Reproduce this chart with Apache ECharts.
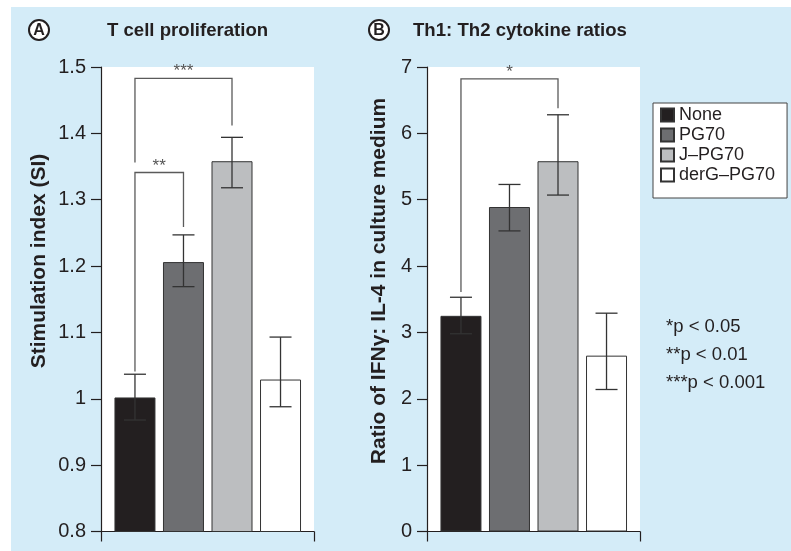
<!DOCTYPE html>
<html><head><meta charset="utf-8">
<script src="https://cdn.jsdelivr.net/npm/echarts@6/dist/echarts.min.js"></script>
<style>html,body{margin:0;padding:0;background:#fff}#c{width:791px;height:551px}</style>
</head><body><div id="c"></div>
<script>
// ---- data ----
const groups = ['None', 'PG70', 'J\u2013PG70', 'derG\u2013PG70'];
const groupColors = ['#231f20', '#6d6e71', '#bcbec0', '#ffffff'];
const prolifMean = [1.002, 1.206, 1.358, 1.029];
const prolifLow  = [0.968, 1.169, 1.318, 0.988];
const prolifHigh = [1.037, 1.247, 1.394, 1.093];
const ratioMean = [3.25, 4.89, 5.58, 2.65];
const ratioLow  = [2.98, 4.53, 5.07, 2.14];
const ratioHigh = [3.53, 5.23, 6.28, 3.29];
const prolifTicks = [0.8, 0.9, 1, 1.1, 1.2, 1.3, 1.4, 1.5];
const ratioTicks = [0, 1, 2, 3, 4, 5, 6, 7];
// brackets: [fromGroup, toGroup, topValue, leftLegEnd, rightLegEnd]
const prolifBrackets = [[0, 1, 1.341, 1.041, 1.259], [0, 2, 1.483, 1.356, 1.412]];
const prolifBracketLabels = ['**', '***'];
const ratioBrackets = [[0, 2, 6.82, 3.61, 6.38]];
const ratioBracketLabels = ['*'];
const pLegend = ['*p < 0.05', '**p < 0.01', '***p < 0.001'];
const titles = ['T cell proliferation', 'Th1: Th2 cytokine ratios'];
const yNames = ['Stimulation index (SI)', 'Ratio of IFN\u03b3: IL-4 in culture medium'];

const FONT = '"Liberation Sans", Arial, Helvetica, sans-serif';
const INK = '#231f20';

function step(t){ return +(t[1] - t[0]).toFixed(6); }

function errItem(params, api){
  const x = api.value(0), lo = api.value(1), hi = api.value(2);
  const pHi = api.coord([x, hi]), pLo = api.coord([x, lo]);
  const hw = 11;
  const style = {stroke: '#333', lineWidth: 1.3};
  return {type: 'group', children: [
    {type: 'line', shape: {x1: pHi[0], y1: pHi[1], x2: pLo[0], y2: pLo[1]}, style: style},
    {type: 'line', shape: {x1: pHi[0]-hw, y1: pHi[1], x2: pHi[0]+hw, y2: pHi[1]}, style: style},
    {type: 'line', shape: {x1: pLo[0]-hw, y1: pLo[1], x2: pLo[0]+hw, y2: pLo[1]}, style: style}
  ]};
}
function bracketItem(labels){
  return function(params, api){
    const a = api.value(0), b = api.value(1), top = api.value(2), l = api.value(3), r = api.value(4);
    const p1 = api.coord([a, l]), p2 = api.coord([a, top]), p3 = api.coord([b, top]), p4 = api.coord([b, r]);
    return {type: 'group', children: [
      {type: 'polyline', shape: {points: [p1, p2, p3, p4]}, style: {stroke: '#5a5a5a', lineWidth: 1.3, fill: null}},
      {type: 'text', x: (p2[0]+p3[0])/2, y: p2[1] + 2, style: {text: labels[params.dataIndex], font: '17px ' + FONT, fill: '#555', align: 'center', verticalAlign: 'bottom'}}
    ]};
  };
}

function makeAxes(idx, ticks){
  return {
    x: {gridIndex: idx, type: 'value', min: -0.7, max: 3.69,
        axisLine: {show: true, onZero: false, lineStyle: {color: INK, width: 1.2}},
        axisTick: {show: true, customValues: [-0.7, 3.69], length: 10, lineStyle: {color: INK, width: 1.2}},
        axisLabel: {show: false}, splitLine: {show: false}},
    y: {gridIndex: idx, type: 'value', min: ticks[0], max: ticks[ticks.length-1], interval: step(ticks),
        axisLine: {show: true, onZero: false, lineStyle: {color: INK, width: 1.2}},
        axisTick: {show: true, length: 10, lineStyle: {color: INK, width: 1.2}},
        axisLabel: {margin: 15, fontFamily: FONT, fontSize: 20, color: INK},
        splitLine: {show: false}}
  };
}
const axA = makeAxes(0, prolifTicks);
const axB = makeAxes(1, ratioTicks);

const series = [];
function addPanel(idx, mean, low, high, brackets, labels){
  groups.forEach(function(g, i){
    series.push({type: 'bar', name: g, xAxisIndex: idx, yAxisIndex: idx,
      data: [[i, mean[i]]], barWidth: 41, barGap: '-100%',
      itemStyle: {color: groupColors[i], borderColor: '#333', borderWidth: 1}, z: 2});
  });
  series.push({type: 'custom', xAxisIndex: idx, yAxisIndex: idx, renderItem: errItem,
    encode: {x: 0, y: [1, 2]}, data: mean.map(function(m, i){ return [i, low[i], high[i]]; }), z: 5, silent: true});
  series.push({type: 'custom', xAxisIndex: idx, yAxisIndex: idx, renderItem: bracketItem(labels),
    encode: {x: [0, 1], y: [2, 3, 4]}, data: brackets, z: 5, silent: true});
}
addPanel(0, prolifMean, prolifLow, prolifHigh, prolifBrackets, prolifBracketLabels);
addPanel(1, ratioMean, ratioLow, ratioHigh, ratioBrackets, ratioBracketLabels);

const graphics = [
  {type: 'rect', shape: {x: 11, y: 7, width: 780, height: 544}, style: {fill: '#d4ecf8'}, z: -10},
  {type: 'circle', shape: {cx: 39, cy: 30, r: 10}, style: {fill: '#fff', stroke: INK, lineWidth: 2}},
  {type: 'text', x: 39, y: 31, style: {text: 'A', font: 'bold 16px ' + FONT, fill: INK, align: 'center', verticalAlign: 'middle'}},
  {type: 'text', x: 107, y: 31, style: {text: titles[0], font: 'bold 18.6px ' + FONT, fill: INK, verticalAlign: 'middle'}},
  {type: 'circle', shape: {cx: 379, cy: 30, r: 10}, style: {fill: '#fff', stroke: INK, lineWidth: 2}},
  {type: 'text', x: 379, y: 31, style: {text: 'B', font: 'bold 16px ' + FONT, fill: INK, align: 'center', verticalAlign: 'middle'}},
  {type: 'text', x: 413, y: 31, style: {text: titles[1], font: 'bold 18.6px ' + FONT, fill: INK, verticalAlign: 'middle'}},
  {type: 'text', x: 39, y: 261, rotation: Math.PI/2, style: {text: yNames[0], font: 'bold 21px ' + FONT, fill: INK, align: 'center', verticalAlign: 'middle'}},
  {type: 'text', x: 379, y: 281, rotation: Math.PI/2, style: {text: yNames[1], font: 'bold 21px ' + FONT, fill: INK, align: 'center', verticalAlign: 'middle'}}
];
pLegend.forEach(function(t, i){
  graphics.push({type: 'text', x: 666, y: 327 + 28*i, style: {text: t, font: '18.5px ' + FONT, fill: INK, verticalAlign: 'middle'}});
});

const chart = echarts.init(document.getElementById('c'), null, {renderer: 'canvas'});
chart.setOption({
  animation: false,
  backgroundColor: '#fff',
  grid: [
    {left: 101, top: 67, width: 213, bottom: 19.5, show: true, backgroundColor: '#fff', borderWidth: 0, containLabel: false},
    {left: 427, top: 67, width: 213, bottom: 19.5, show: true, backgroundColor: '#fff', borderWidth: 0, containLabel: false}
  ],
  xAxis: [axA.x, axB.x],
  yAxis: [axA.y, axB.y],
  legend: {data: groups, orient: 'vertical', left: 653, top: 103, padding: [2, 12, 13, 7],
    itemWidth: 13, itemHeight: 13, itemGap: 0, icon: 'rect',
    backgroundColor: '#fff', borderColor: '#444', borderWidth: 1, borderRadius: 0,
    textStyle: {fontFamily: FONT, fontSize: 18, color: INK, lineHeight: 20, padding: [0, 0, 0, 0]},
    selectedMode: false},
  graphic: graphics,
  series: series
});
</script>
</body></html>
